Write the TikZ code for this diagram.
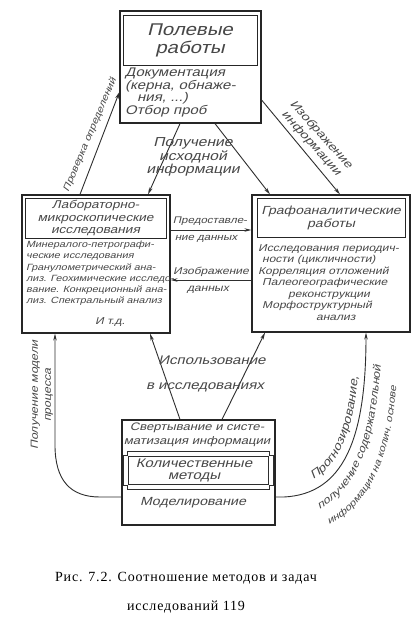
\documentclass[tikz,border=0pt]{standalone}
\usepackage{fontspec}
\setmainfont{Liberation Serif}
\newfontfamily\capfont[LetterSpace=6]{Liberation Serif}
\newfontfamily\hand[FakeStretch=1.2,FakeSlant=0.25]{Liberation Sans}
\newcommand{\hwf}[2]{\hand\fontsize{#1}{#2}\selectfont}
\usetikzlibrary{arrows.meta,calc,decorations.text}
\begin{document}
\begin{tikzpicture}[x=1pt,y=-1pt,
  ink/.style={draw=black!82, line width=0.9pt},
  box/.style={draw=black!85, line width=1.2pt, rectangle, inner sep=0pt, text=black!72},
  tbox/.style={draw=black!85, line width=0.9pt, rectangle, inner sep=0pt, align=center, text=black!72},
  hw/.style={inner sep=0pt, text=black!72},
  arr/.style={ink, -{Stealth[length=7pt,width=3.5pt]}},
  curv/.style={decorate, decoration={text along path, text align=center, text color=black!72}}
]
\useasboundingbox (0,0) rectangle (418,621);
\fill[white] (0,0) rectangle (418,621);

% boxes
\node[box, minimum width=141pt, minimum height=112pt] (field) at (190.5,67) {};
\node[tbox, minimum width=134pt, minimum height=50pt, font=\hwf{17}{18}] (fieldT) at (190,40) {Полевые\\работы};
\node[hw, anchor=north west, align=left, font=\hwf{12.5}{12.5}] (fieldB) at (125,68)
  {Документация\\(керна, обнаже-\\\hspace*{12pt}ния, ...)\\Отбор проб};

\node[box, minimum width=148pt, minimum height=138pt] (lab) at (96,264) {};
\node[tbox, minimum width=141pt, minimum height=40pt, font=\hwf{11.3}{12.5}] (labT) at (95.5,218)
  {Лабораторно-\\микроскопические\\исследования};
\node[hw, anchor=north west, align=left, font=\hwf{9}{11.2}] (labB) at (26,241)
  {Минералого-петрографи-\\ческие исследования\\Гранулометрический ана-\\лиз. Геохимические исследо-\\вание. Конкреционный ана-\\лиз. Спектральный анализ};
\node[hw, font=\hwf{10}{12}] (labE) at (110,322) {И т.д.};

\node[box, minimum width=158pt, minimum height=137pt] (grafo) at (331,263.5) {};
\node[tbox, minimum width=148pt, minimum height=39pt, font=\hwf{11.7}{13}] (grafoT) at (331,217.5)
  {Графоаналитические\\работы};
\node[hw, anchor=north west, align=left, font=\hwf{10}{11.5}] (grafoB) at (258,244)
  {Исследования периодич-\\\hspace*{4pt}ности (цикличности)\\Корреляция отложений\\\hspace*{4pt}Палеогеографические\\\hspace*{30pt}реконструкции\\\hspace*{4pt}Морфоструктурный\\\hspace*{58pt}анализ};

\node[box, minimum width=153pt, minimum height=105pt] (quant) at (198.5,472.5) {};
\node[hw, align=center, font=\hwf{10.9}{14}] (quantA) at (197,435) {Свертывание и систе-\\матизация информации};
\draw[ink] (127,451) -- (269,451) -- (269,455) -- (273,455) -- (273,485) -- (269,485) -- (269,489)
  -- (127,489) -- (127,485) -- (123,485) -- (123,455) -- (127,455) -- cycle;
\draw[ink] (128,456) rectangle (268,484);
\node[hw, align=center, font=\hwf{12.5}{12}] (quantM) at (194,470) {Количественные\\методы};
\node[hw, font=\hwf{11.8}{12}] (quantB) at (193,503) {Моделирование};

% connectors
\draw[arr] ($(field.south)+(-10.5,0)$) -- ($(lab.north)+(52,0)$);
\draw[arr] ($(field.south)+(24.5,0)$) -- ($(grafo.north)+(-61,0)$);
\draw[arr] ($(lab.north)+(-16,0)$) -- ($(field.west)+(0,25)$);
\draw[arr] ($(field.east)+(0,33)$) -- ($(grafo.north)+(9,0)$);
\draw[arr] ($(lab.east)+(0,-34)$) -- ($(grafo.west)+(0,-33.5)$);
\draw[arr] ($(grafo.west)+(0,16.5)$) -- ($(lab.east)+(0,16)$);
\draw[arr] ($(quant.north)+(-18.5,0)$) -- ($(lab.south)+(54,0)$);
\draw[arr] ($(quant.north)+(23.5,0)$) -- ($(grafo.south)+(-66,0)$);
\draw[arr] ($(quant.west)+(0,24.5)$) -- (100,497) .. controls (70,497) and (55,480) .. (55,445) -- ($(lab.south)+(-41,0)$);
\draw[arr] ($(quant.east)+(0,24.5)$) -- (284,497) .. controls (343,494) and (366,440) .. ($(grafo.south)+(35,0)$);

% labels
\node[hw, align=center, font=\hwf{13}{13.5}] (lget) at (193,157) {Получение\\исходной\\информации};
\node[hw, rotate=67, font=\hwf{9.4}{11}] (lcheck) at (90,135) {Проверка определений};
\node[hw, rotate=-48, align=center, font=\hwf{11.5}{13}] (limg) at (316,139) {Изображение\\информации};
\node[hw, font=\hwf{9.6}{11}] (lpred1) at (210,221) {Предоставле-};
\node[hw, font=\hwf{9.6}{11}] (lpred2) at (206,239) {ние данных};
\node[hw, font=\hwf{10}{11}] (limgd1) at (211,272) {Изображение};
\node[hw, font=\hwf{10}{11}] (limgd2) at (208,290) {данных};
\node[hw, font=\hwf{12.5}{13}] (luse1) at (212,360) {Использование};
\node[hw, font=\hwf{12.5}{13}] (luse2) at (205,387) {в исследованиях};
\node[hw, rotate=90, align=center, font=\hwf{10.3}{13}] (lmodel) at (42,395) {Получение модели\\процесса};

\path[curv, decoration={text={|\hwf{11.5}{12}|Прогнозирование,}}]
  (294,487) .. controls (338,478) and (357,430) .. (359,356);
\path[curv, decoration={text={|\hwf{10.5}{12}|получение содержательной}}]
  (294,518) .. controls (352,507) and (379,452) .. (382,338);
\path[curv, decoration={text={|\hwf{9.5}{12}|информации на колич. основе}}]
  (300,533) .. controls (368,522) and (395,462) .. (398,356);

% caption
\node[font=\capfont\fontsize{14}{16}\selectfont] (cap1) at (186,578) {Рис. 7.2. Соотношение методов и задач};
\node[font=\capfont\fontsize{14}{16}\selectfont] (cap2) at (186,607) {исследований 119};
\end{tikzpicture}
\end{document}
